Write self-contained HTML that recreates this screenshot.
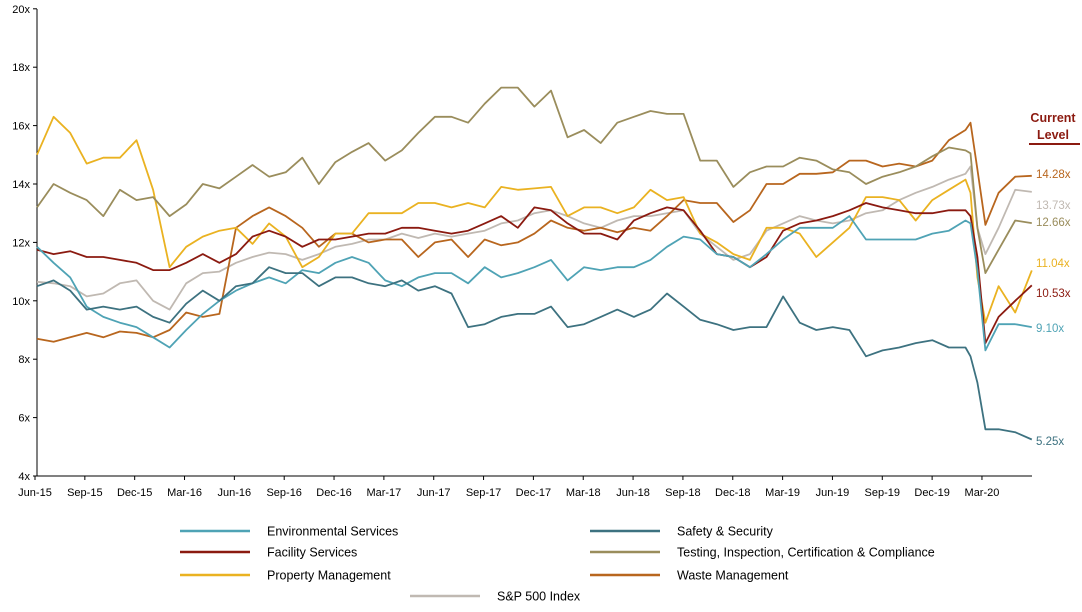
<!DOCTYPE html>
<html><head><meta charset="utf-8"><style>
body{margin:0;background:#fff;width:1082px;height:607px;overflow:hidden;font-family:"Liberation Sans",sans-serif;}
svg text{font-family:"Liberation Sans",sans-serif;}
</style></head><body>
<svg id="chart" width="1082" height="607" viewBox="0 0 1082 607">
<g id="axes"></g>
<g id="lines"></g>
<g id="labels">
<text x="1053" y="122" text-anchor="middle" font-size="12.5" font-weight="bold" fill="#8b1a10">Current</text>
<text x="1053" y="139" text-anchor="middle" font-size="12.5" font-weight="bold" fill="#8b1a10">Level</text>
<line x1="1029" y1="144" x2="1080" y2="144" stroke="#8b1a10" stroke-width="2"/>
</g>
<g id="legend"></g>
</svg>
<script>
const xIdx=[];for(let i=0;i<=55;i++)xIdx.push(i);xIdx.push(56,56.3,56.72,57.2,58,59,60);
const yTicks=[4,6,8,10,12,14,16,18,20];
const xTickLabels=["Jun-15","Sep-15","Dec-15","Mar-16","Jun-16","Sep-16","Dec-16","Mar-17","Jun-17","Sep-17","Dec-17","Mar-18","Jun-18","Sep-18","Dec-18","Mar-19","Jun-19","Sep-19","Dec-19","Mar-20"];
const envServices=[11.85,11.3,10.8,9.8,9.45,9.25,9.1,8.75,8.4,9.0,9.55,10.0,10.35,10.6,10.8,10.6,11.05,10.95,11.3,11.5,11.3,
10.7,10.5,10.8,10.95,10.95,10.6,11.15,10.8,10.95,11.15,11.4,10.7,11.15,11.05,11.15,11.15,11.4,11.85,12.2,12.1,11.6,
11.5,11.15,11.6,12.1,12.5,12.5,12.5,12.9,12.1,12.1,12.1,12.1,12.3,12.4,
12.75,12.65,11.05,8.3,9.2,9.2,9.1];
const safetySecurity=[10.5,10.7,10.35,9.7,9.8,9.7,9.8,9.45,9.25,9.9,10.35,10.0,10.5,10.6,11.15,10.95,10.95,10.5,10.8,10.8,10.6,
10.5,10.7,10.35,10.5,10.25,9.1,9.2,9.45,9.55,9.55,9.8,9.1,9.2,9.45,9.7,9.45,9.7,10.25,9.8,9.35,9.2,
9.0,9.1,9.1,10.15,9.25,9.0,9.1,9.0,8.1,8.3,8.4,8.55,8.65,8.4,
8.4,8.1,7.2,5.6,5.6,5.5,5.25];
const facilityServices=[11.75,11.6,11.7,11.5,11.5,11.4,11.3,11.05,11.05,11.3,11.6,11.3,11.6,12.2,12.4,12.2,11.85,12.1,12.1,12.2,12.3,
12.3,12.5,12.5,12.4,12.3,12.4,12.65,12.9,12.5,13.2,13.1,12.65,12.3,12.3,12.1,12.75,13.0,13.2,13.1,12.4,11.6,
11.5,11.15,11.5,12.4,12.65,12.75,12.9,13.1,13.35,13.2,13.1,13.0,13.0,13.1,
13.1,12.9,11.5,8.55,9.45,10.0,10.53];
const testingTIC=[13.2,14.0,13.7,13.45,12.9,13.8,13.45,13.55,12.9,13.3,14.0,13.85,14.25,14.65,14.25,14.4,14.9,14.0,14.75,15.1,15.4,
14.8,15.15,15.75,16.3,16.3,16.1,16.75,17.3,17.3,16.65,17.2,15.6,15.85,15.4,16.1,16.3,16.5,16.4,16.4,14.8,14.8,
13.9,14.4,14.6,14.6,14.9,14.8,14.5,14.4,14.0,14.25,14.4,14.6,14.95,15.25,
15.15,15.05,12.5,10.95,11.75,12.75,12.66];
const propertyMgmt=[15.0,16.3,15.75,14.7,14.9,14.9,15.5,13.8,11.15,11.85,12.2,12.4,12.5,11.95,12.65,12.2,11.15,11.5,12.3,12.3,13.0,
13.0,13.0,13.35,13.35,13.2,13.35,13.2,13.9,13.8,13.85,13.9,12.9,13.2,13.2,13.0,13.2,13.8,13.45,13.55,12.3,12.0,
11.6,11.4,12.5,12.5,12.3,11.5,12.0,12.5,13.55,13.55,13.45,12.75,13.45,13.8,
14.15,13.7,10.8,9.25,10.5,9.6,11.04];
const wasteMgmt=[8.7,8.6,8.75,8.9,8.75,8.95,8.9,8.75,9.0,9.6,9.45,9.55,12.5,12.9,13.2,12.9,12.5,11.85,12.3,12.3,12.0,
12.1,12.1,11.5,12.0,12.1,11.5,12.1,11.9,12.0,12.3,12.75,12.5,12.4,12.5,12.35,12.5,12.4,12.9,13.45,13.35,13.35,
12.7,13.1,14.0,14.0,14.35,14.35,14.4,14.8,14.8,14.6,14.7,14.6,14.8,15.5,
15.85,16.1,14.5,12.6,13.7,14.25,14.28];
const sp500=[10.65,10.6,10.5,10.15,10.25,10.6,10.7,10.0,9.7,10.6,10.95,11.0,11.3,11.5,11.65,11.6,11.4,11.6,11.85,11.95,12.1,
12.1,12.3,12.15,12.3,12.2,12.3,12.4,12.65,12.75,13.0,13.1,12.9,12.65,12.5,12.75,12.9,12.9,13.0,13.1,12.3,11.85,
11.4,11.6,12.4,12.65,12.9,12.75,12.65,12.75,13.0,13.1,13.45,13.7,13.9,14.15,
14.35,14.6,12.5,11.6,12.5,13.8,13.73];
const seriesNames=["Environmental Services","Safety & Security","Facility Services","Testing, Inspection, Certification & Compliance","Property Management","Waste Management","S&P 500 Index"];
const seriesData=[envServices,safetySecurity,facilityServices,testingTIC,propertyMgmt,wasteMgmt,sp500];
const colors=["#4fa3b5","#3d7280","#8b1a10","#9a8d5c","#eab221","#b8661e","#c0b9b2"];
const labelY=[328,441,293,222,263,174,205];

const NS="http://www.w3.org/2000/svg";
function X(i){return 37+i*16.58;}
function Y(v){return 476-(v-4)*29.2;}
function TX(q){return 35+q*49.84;}
function mk(t,a,p){const e=document.createElementNS(NS,t);for(const k in a)e.setAttribute(k,a[k]);p.appendChild(e);return e;}
const axes=document.getElementById('axes');
let e=mk('line',{x1:37,y1:9,x2:37,y2:476,stroke:'#000','stroke-width':1},axes);


e=mk('line',{x1:37,y1:476,x2:1032,y2:476,stroke:'#000','stroke-width':1},axes);


yTicks.forEach(v=>{
  const t=mk('line',{x1:33,y1:Y(v),x2:37,y2:Y(v),stroke:'#000'},axes);
  
  
  const l=mk('text',{x:30,y:Y(v)+4,'text-anchor':'end','font-size':11,fill:'#000'},axes);
  l.textContent=v+'x';
  
  
});
xTickLabels.forEach((s,q)=>{
  const t=mk('line',{x1:TX(q),y1:476,x2:TX(q),y2:480,stroke:'#000'},axes);
  
  
  const l=mk('text',{x:TX(q),y:496,'text-anchor':'middle','font-size':11,fill:'#000'},axes);
  l.textContent=s;
  
  
});
const lines=document.getElementById('lines');
const order=[6,5,4,3,2,0,1];
order.forEach(si=>{
  const d=seriesData[si].map((v,i)=>(i?'L':'M')+X(xIdx[i]).toFixed(1)+' '+Y(v).toFixed(1)).join(' ');
  const p=mk('path',{d:d,fill:'none',stroke:colors[si],'stroke-width':1.8,'stroke-linejoin':'round'},lines);
  
  
});
const labels=document.getElementById('labels');
seriesData.forEach((arr,si)=>{
  const l=mk('text',{x:1036,y:labelY[si]+4,'font-size':11.5,fill:colors[si]},labels);
  l.textContent=arr[arr.length-1].toFixed(2)+'x';
  
  
});
const legend=document.getElementById('legend');
const legPos=[[180,531],[590,531],[180,552],[590,552],[180,575],[590,575],[410,596]];
legPos.forEach((p,si)=>{
  const ln=mk('line',{x1:p[0],y1:p[1],x2:p[0]+70,y2:p[1],stroke:colors[si],'stroke-width':2.5},legend);
  
  
  const t=mk('text',{x:p[0]+87,y:p[1]+4.5,'font-size':12.5,fill:'#000'},legend);
  t.textContent=seriesNames[si];
  
  
});
</script>
</body></html>
